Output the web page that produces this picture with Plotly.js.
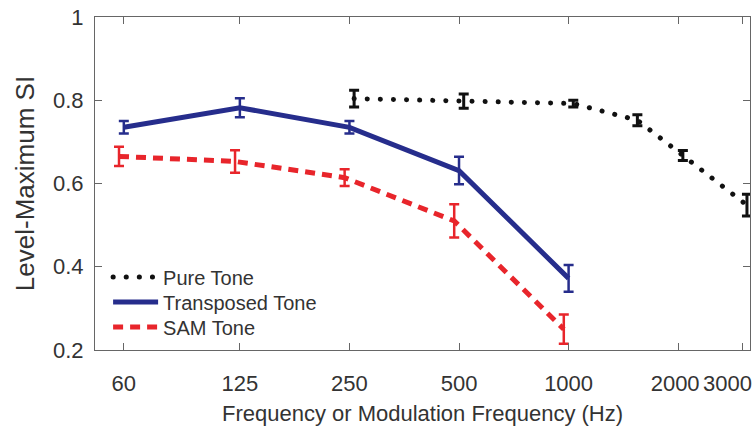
<!DOCTYPE html>
<html>
<head>
<meta charset="utf-8">
<script src="https://cdn.plot.ly/plotly-3.0.1.min.js"></script>
<style>body{margin:0;background:#fff}#chart{width:754px;height:438px}</style>
</head>
<body>
<div id="chart"></div>
<script>
// ---- data ----
const tickFreqs = [60, 125, 250, 500, 1000, 2000, 3000];
const tickLabels = ["60", "125", "250", "500", "1000", "2000", "3000"];
const yTicks = [0.2, 0.4, 0.6, 0.8, 1];
const yTickLabels = ["0.2", "0.4", "0.6", "0.8", "1"];

const pureFreq = [250, 500, 1000, 1500, 2000, 3000];
const pureSI   = [0.804, 0.798, 0.792, 0.752, 0.667, 0.548];
const pureErr  = [0.020, 0.017, 0.008, 0.013, 0.012, 0.026];

const transFreq = [60, 125, 250, 500, 1000];
const transSI   = [0.735, 0.782, 0.735, 0.631, 0.372];
const transErr  = [0.015, 0.023, 0.015, 0.033, 0.032];

const samFreq = [60, 125, 250, 500, 1000];
const samSI   = [0.665, 0.653, 0.614, 0.510, 0.250];
const samErr  = [0.023, 0.027, 0.020, 0.040, 0.035];

// small horizontal dodge so error bars do not overlap (display only)
const dodge = (arr, f) => arr.map(v => v * f);

const FONT = "Liberation Sans, Arial, sans-serif";
const BLUE = "#262d8c", RED = "#e8252b", BLACK = "#111111";

const traces = [
  {
    x: dodge(pureFreq, 1.03), y: pureSI, name: "Pure Tone", legend: "legend",
    type: "scatter", mode: "lines",
    line: {color: BLACK, width: 5, dash: "0.1px,13px"},
    error_y: {type: "data", array: pureErr, visible: true, color: BLACK, thickness: 3, width: 5}
  },
  {
    x: transFreq, y: transSI, name: "Transposed Tone", legend: "legend2",
    type: "scatter", mode: "lines",
    line: {color: BLUE, width: 5},
    error_y: {type: "data", array: transErr, visible: true, color: BLUE, thickness: 2.5, width: 5}
  },
  {
    x: dodge(samFreq, 0.97), y: samSI, name: "SAM Tone", legend: "legend3",
    type: "scatter", mode: "lines",
    line: {color: RED, width: 5, dash: "10px,7px"},
    error_y: {type: "data", array: samErr, visible: true, color: RED, thickness: 2.5, width: 5}
  }
];

// the last two tick labels sit close together near the frame edge, as in the reference
const shownTickText = tickLabels.slice(0, -2).concat([tickLabels[5] + "\u00a0", ""]);

const legendBase = (y) => ({
  x: 0.02, y: y, xanchor: "left", yanchor: "middle",
  bgcolor: "rgba(0,0,0,0)", font: {size: 20, color: "#333", family: FONT},
  itemwidth: 45
});

const layout = {
  width: 754, height: 438,
  margin: {l: 95, r: 4, t: 17, b: 88},
  paper_bgcolor: "#fff", plot_bgcolor: "#fff",
  font: {family: FONT, color: "#333"},
  showlegend: true,
  legend: legendBase(0.219),
  legend2: legendBase(0.144),
  legend3: legendBase(0.069),
  annotations: [{
    text: tickLabels[tickLabels.length - 1],
    xref: "paper", x: 1, xanchor: "right", xshift: 4,
    yref: "paper", y: 0, yanchor: "middle", yshift: -33,
    showarrow: false, font: {size: 22, color: "#333", family: FONT}
  }],
  xaxis: {
    type: "log", range: [Math.log10(50), Math.log10(3150)],
    tickmode: "array", tickvals: tickFreqs, ticktext: shownTickText,
    ticks: "inside", ticklen: 7, tickcolor: "#666", tickwidth: 1,
    showline: true, linecolor: "#666", linewidth: 1, mirror: "ticks",
    showgrid: false, zeroline: false,
    tickfont: {size: 22, color: "#333", family: FONT},
    ticklabelstandoff: 14,
    title: {text: "Frequency or Modulation Frequency (Hz)", font: {size: 22, color: "#333", family: FONT}, standoff: 10}
  },
  yaxis: {
    range: [0.2, 1],
    tickmode: "array", tickvals: yTicks, ticktext: yTickLabels,
    ticks: "inside", ticklen: 7, tickcolor: "#666", tickwidth: 1,
    showline: true, linecolor: "#666", linewidth: 1, mirror: "ticks",
    showgrid: false, zeroline: false,
    tickfont: {size: 22, color: "#333", family: FONT},
    ticklabelstandoff: 6,
    title: {text: "Level-Maximum SI", font: {size: 26, color: "#333", family: FONT}, standoff: 10}
  }
};

Plotly.newPlot("chart", traces, layout, {displayModeBar: false, staticPlot: true}).then(gd => {
  // round dots for the dotted "Pure Tone" line (plot and legend sample)
  const lines = gd.querySelectorAll(".scatterlayer .trace");
  if (lines[0]) lines[0].querySelectorAll("path.js-line").forEach(p => p.style.strokeLinecap = "round");
  const leg = gd.querySelector(".legend");
  if (leg) leg.querySelectorAll("path.js-line").forEach(p => p.style.strokeLinecap = "round");
});
</script>
</body>
</html>
